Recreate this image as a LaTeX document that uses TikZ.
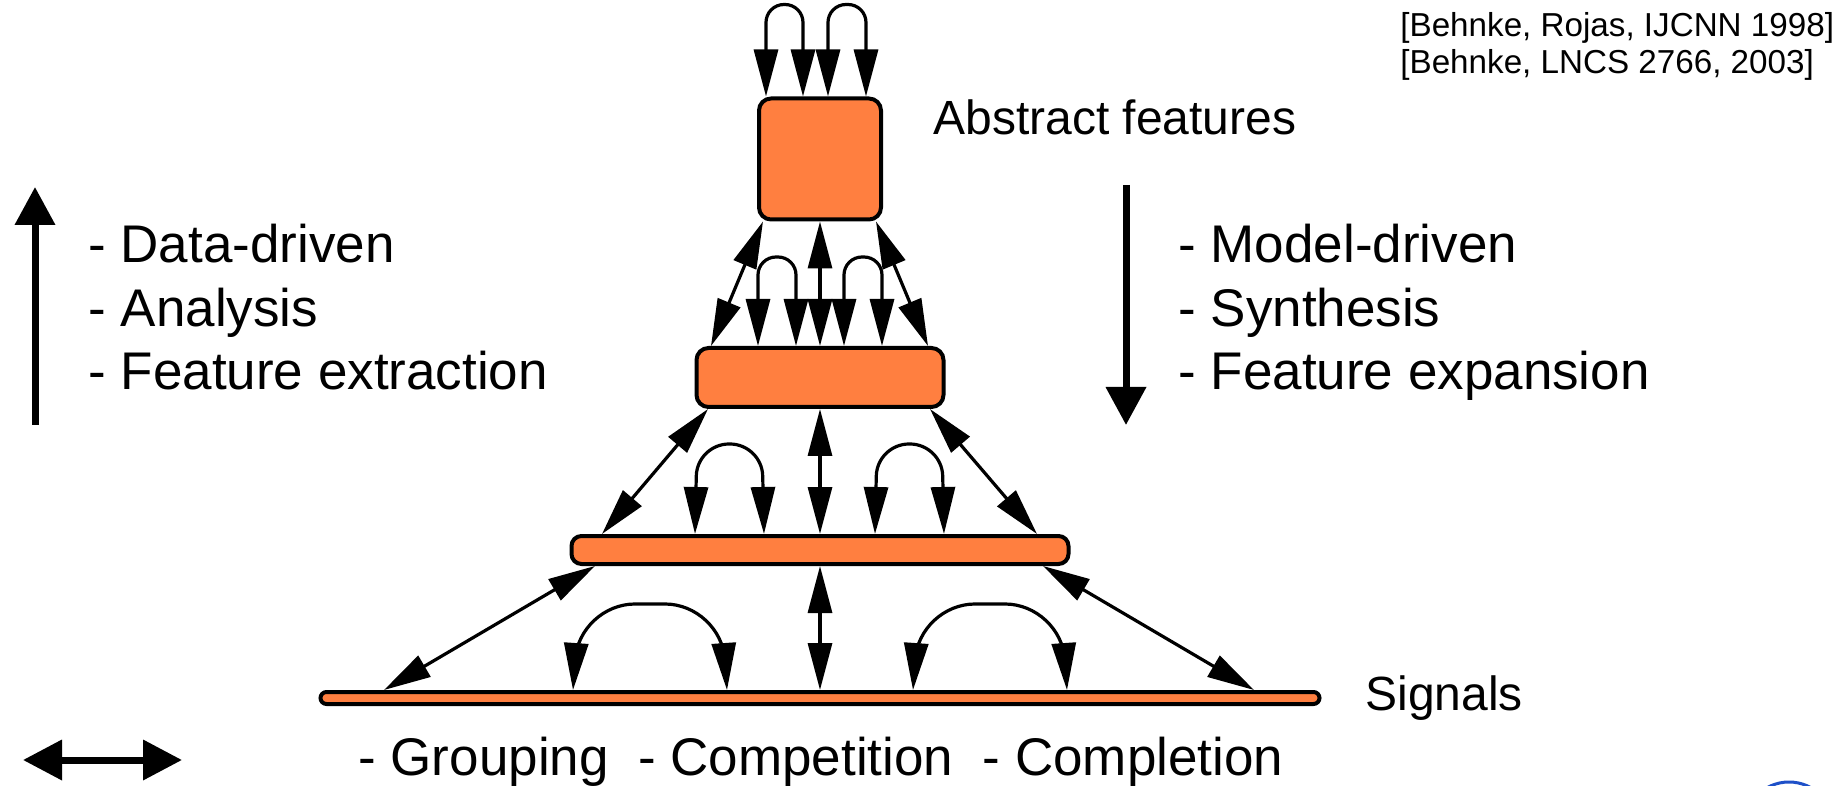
\documentclass[tikz,border=0pt]{standalone}
\usepackage{fontspec}
\setmainfont{Liberation Sans}
\usetikzlibrary{arrows.meta,calc}
\definecolor{layerorange}{RGB}{255,127,64}
\definecolor{logoblue}{RGB}{30,80,200}
\tikzstyle{layer}=[draw,line width=2pt,fill=layerorange,inner sep=0pt,rounded corners=6pt]
\tikzstyle{link}=[draw,line width=1.6pt,{Triangle[length=23.5pt,width=12pt]}-{Triangle[length=23.5pt,width=12pt]}]
\tikzstyle{bigarrow}=[draw,line width=3.5pt,-{Triangle[length=19pt,width=19.5pt]}]
\tikzstyle{biglabel}=[font=\fontsize{26.5}{31.75}\selectfont,align=left,inner sep=0pt]
\tikzstyle{tag}=[font=\fontsize{24}{28}\selectfont,inner sep=0pt]

\begin{document}
\begin{tikzpicture}[x=0.5pt,y=-0.5pt]
    \useasboundingbox (0,0) rectangle (1833,786);
    % Draw the layers, from abstract features down to signals
    \foreach \pos/\name/\w/\h/\r in {{(820,159)/b1/61pt/60.5pt/6pt}, {(820,377.5)/b2/123.5pt/29.5pt/6pt},
                                     {(820,550)/b3/248.5pt/14pt/5pt}, {(820,698)/b4/499.5pt/6pt/3pt}}
        \node[layer, minimum width=\w, minimum height=\h, rounded corners=\r] (\name) at \pos {};
    % Connect neighbouring layers
    \foreach \up/\dn/\a/\b in {b1/b2/-57/-109, b1/b2/0/0, b1/b2/56/108,
                               b2/b3/-112/-218, b2/b3/0/0, b2/b3/110/217,
                               b3/b4/-225/-436, b3/b4/0/0, b3/b4/223/434}
        \path[link] ($(\up.south)+(\a,0)$) -- ($(\dn.north)+(\b,0)$);
    % Lateral loops inside each layer
    \foreach \name/\l/\w/\h/\s/\r in {b1/-54/37/92/0/9pt, b1/8/38/92/0/9pt,
                                      b2/-62/38/89/0/9pt, b2/24/38/89/0/9pt,
                                      b3/-125/69/90/2/16pt, b3/55/69/90/2/16pt,
                                      b4/-247/154/86/6/28pt, b4/93/154/86/6/28pt}
        \path[link, rounded corners=\r] ($(\name.north)+(\l,0)$) -- ++(\s,-\h) -- ++(\w-2*\s,0) -- ++(\s,\h);
    % Labels
    \node[tag, anchor=base west] (abstract) at (933,135) {Abstract features};
    \node[tag, anchor=base west] (signals) at (1365,710) {Signals};
    \node[biglabel, anchor=north west] (bottomup) at (88,224) {- Data-driven\\- Analysis\\- Feature extraction};
    \node[biglabel, anchor=north west] (topdown) at (1178,224) {- Model-driven\\- Synthesis\\- Feature expansion};
    \node[biglabel, anchor=base west] (lateral) at (358,775) {- Grouping\ \ - Competition\ \ - Completion};
    \node[font=\fontsize{16.6}{18.5}\selectfont, align=left, inner sep=0pt, anchor=north west] (refs) at (1400,12)
        {[Behnke, Rojas, IJCNN 1998]\\{[}Behnke, LNCS 2766, 2003]};
    % Direction arrows
    \coordinate (upfrom) at (35,425);
    \coordinate (upto) at (35,187);
    \path[bigarrow] (upfrom) -- (upto);
    \coordinate (downfrom) at (1126,185);
    \coordinate (downto) at (1126,425);
    \path[bigarrow] (downfrom) -- (downto);
    \coordinate (pairl) at (23,760);
    \coordinate (pairr) at (182,760);
    \path[bigarrow, {Triangle[length=19.5pt,width=19.5pt]}-{Triangle[length=19.5pt,width=19.5pt]}] (pairl) -- (pairr);
    % Logo fragment at the lower edge
    \begin{scope}
        \clip (0,0) rectangle (1833,786);
        \draw[logoblue, line width=1.5pt] (1789,827) circle[radius=22.5pt];
    \end{scope}
\end{tikzpicture}
\end{document}
